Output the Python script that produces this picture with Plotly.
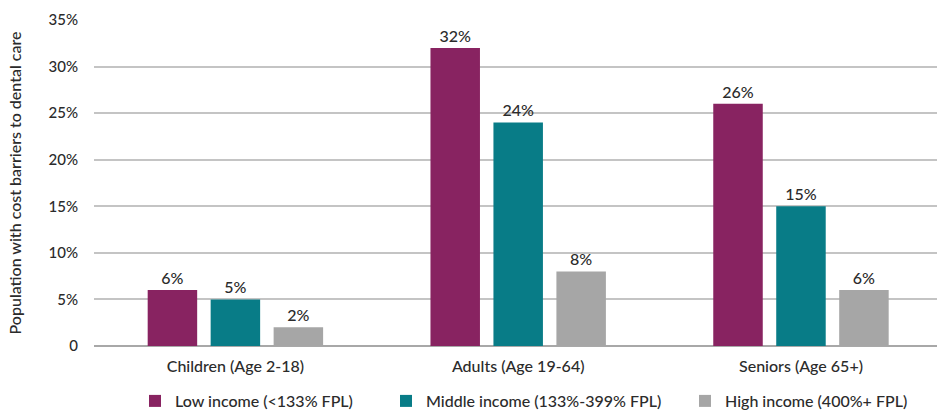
import plotly.graph_objects as go

# Age groups and share of population reporting cost barriers to dental care (%)
categories = ["Children (Age 2-18)", "Adults (Age 19-64)", "Seniors (Age 65+)"]
low_income = [6, 32, 26]
middle_income = [5, 24, 15]
high_income = [2, 8, 6]

series_names = ["Low income (<133% FPL)", "Middle income (133%-399% FPL)", "High income (400%+ FPL)"]
series_colors = ["#882361", "#087C87", "#A6A6A6"]
legend_ids = ["legend", "legend2", "legend3"]
legend_x = [135, 386, 685]  # left edge of each legend entry, px

tick_values = [0, 5, 10, 15, 20, 25, 30, 35]
tick_labels = ["0", "5%", "10%", "15%", "20%", "25%", "30%", "35%"]

FONT = "Lato, Noto Sans, sans-serif"
TEXT = "#2b2b2b"
WEIGHT = 500
W, H = 937, 413

fig = go.Figure()
for name, vals, color, lg in zip(series_names, [low_income, middle_income, high_income],
                                 series_colors, legend_ids):
    fig.add_trace(go.Bar(
        x=categories, y=vals, name=name, legend=lg,
        marker=dict(color=color, line=dict(width=0)),
        text=[f"{v}%" for v in vals], textposition="outside",
        textfont=dict(family=FONT, size=16, color=TEXT, weight=WEIGHT),
        cliponaxis=False, hoverinfo="skip",
    ))

legend_common = dict(orientation="h", xref="container", yref="container",
                     xanchor="left", yanchor="middle", y=(H - 401) / H,
                     font=dict(family=FONT, size=16, color=TEXT, weight=WEIGHT), itemwidth=30,
                     bgcolor="rgba(0,0,0,0)")
legends = {lg: dict(legend_common, x=lx / W) for lg, lx in zip(legend_ids, legend_x)}

fig.update_layout(
    width=W, height=H,
    margin=dict(l=94, r=0, t=20, b=67, autoexpand=False),
    paper_bgcolor="white", plot_bgcolor="white",
    barmode="group", bargap=0.332, bargroupgap=0.214,
    font=dict(family=FONT, size=16, color=TEXT, weight=WEIGHT),
    showlegend=True,
    xaxis=dict(range=[-0.5, 2.481], showline=False, ticks="", ticklabelstandoff=9,
               tickfont=dict(size=16, color=TEXT, weight=WEIGHT)),
    yaxis=dict(range=[0, 35], tickvals=tick_values, ticktext=tick_labels,
               showgrid=True, gridcolor="#C4C4C4", gridwidth=1.5,
               zeroline=True, zerolinecolor="#A8A8A8", zerolinewidth=1.5,
               ticks="", ticklen=0, ticklabelstandoff=15,
               tickfont=dict(size=15, color=TEXT, weight=WEIGHT),
               title=dict(text="Population with cost barriers to dental care",
                          font=dict(size=16, color=TEXT, weight=WEIGHT), standoff=22)),
    **legends,
)

fig.write_html("out.html")
